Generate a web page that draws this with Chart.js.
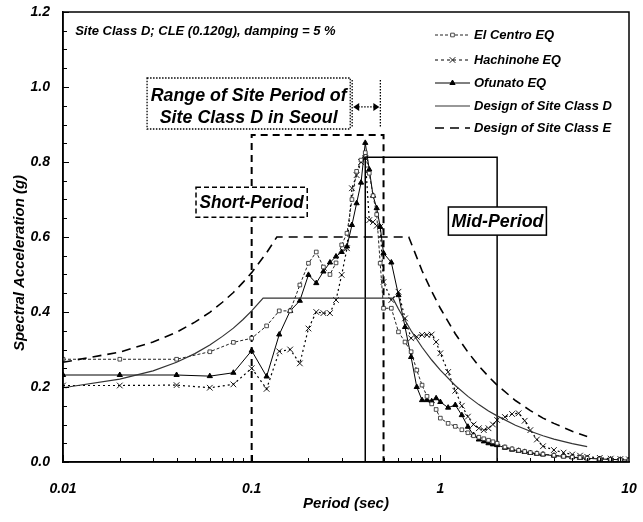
<!DOCTYPE html>
<html><head><meta charset="utf-8">
<script src="https://cdn.jsdelivr.net/npm/chart.js@4.4.0/dist/chart.umd.min.js"></script>
<style>html,body{margin:0;padding:0;background:#fff;}</style>
</head><body>
<canvas id="c" width="643" height="522"></canvas>
<script>
// ---- data ----
const periods = [0.01,0.02,0.04,0.06,0.08,0.1,0.12,0.14,0.16,0.18,0.2,0.22,0.24,0.26,0.28,0.3,0.32,0.34,0.36,0.38,0.4,0.42,0.44,0.46,0.48,0.5,0.55,0.6,0.65,0.7,0.75,0.8,0.85,0.9,0.95,1.0,1.1,1.2,1.3,1.4,1.5,1.6,1.7,1.8,1.9,2.0,2.2,2.4,2.6,2.8,3.0,3.25,3.5,4.0,4.5,5.0,5.5,6.0,7.0,8.0,9.0,10.0];
const elCentro = [0.274,0.274,0.274,0.294,0.319,0.33,0.363,0.403,0.403,0.472,0.53,0.56,0.52,0.50,0.531,0.579,0.61,0.70,0.775,0.805,0.825,0.77,0.71,0.66,0.53,0.41,0.41,0.347,0.32,0.294,0.245,0.205,0.175,0.155,0.14,0.117,0.103,0.095,0.086,0.078,0.07,0.066,0.062,0.058,0.054,0.05,0.04,0.035,0.031,0.028,0.025,0.023,0.021,0.018,0.015,0.013,0.012,0.01,0.008,0.007,0.006,0.005];
const hachinohe = [0.204,0.204,0.205,0.198,0.207,0.25,0.195,0.295,0.30,0.263,0.356,0.40,0.397,0.397,0.432,0.499,0.57,0.73,0.765,0.80,0.81,0.645,0.64,0.63,0.627,0.48,0.432,0.454,0.383,0.33,0.334,0.339,0.339,0.34,0.32,0.29,0.24,0.19,0.15,0.121,0.10,0.09,0.085,0.09,0.10,0.112,0.12,0.128,0.13,0.11,0.085,0.06,0.042,0.032,0.025,0.02,0.017,0.014,0.011,0.009,0.008,0.007];
const ofunato = [0.232,0.232,0.232,0.229,0.238,0.297,0.228,0.34,0.403,0.43,0.499,0.477,0.508,0.532,0.548,0.56,0.575,0.632,0.69,0.745,0.851,0.78,0.71,0.677,0.627,0.557,0.532,0.445,0.36,0.28,0.20,0.165,0.165,0.162,0.17,0.16,0.145,0.152,0.125,0.094,0.072,0.06,0.055,0.05,0.047,0.045,0.038,0.033,0.03,0.027,0.024,0.022,0.02,0.017,0.015,0.013,0.011,0.01,0.008,0.007,0.006,0.005];
const designDPeriods = [0.01,0.02,0.03,0.04,0.05,0.06,0.07,0.08,0.09,0.1,0.115,0.56,0.6,0.7,0.8,0.9,1.0,1.2,1.4,1.6,1.8,2.0,2.5,3.0,3.5,4.0,5.0,6.0];
const designD = [0.198,0.221,0.243,0.266,0.289,0.312,0.335,0.357,0.38,0.403,0.437,0.437,0.408,0.35,0.306,0.272,0.245,0.204,0.175,0.153,0.136,0.123,0.098,0.082,0.07,0.061,0.049,0.041];
const designEPeriods = [0.01,0.02,0.03,0.04,0.05,0.06,0.07,0.08,0.09,0.1,0.12,0.136,0.68,0.8,0.9,1.0,1.2,1.4,1.6,1.8,2.0,2.5,3.0,3.5,4.0,5.0,6.0];
const designE = [0.266,0.293,0.32,0.346,0.373,0.399,0.426,0.452,0.479,0.505,0.558,0.6,0.6,0.51,0.455,0.41,0.342,0.293,0.256,0.228,0.205,0.164,0.137,0.117,0.103,0.082,0.068];
const xTickValues = [0.01,0.1,1,10];
const xTickLabels = ['0.01','0.1','1','10'];
const yTickValues = [0,0.2,0.4,0.6,0.8,1.0,1.2];
const seriesNames = ['El Centro EQ','Hachinohe EQ','Ofunato EQ','Design of Site Class D','Design of Site Class E'];
const yTitle = 'Spectral Acceleration (g)';
const xTitle = 'Period (sec)';

const FAM = '"Liberation Sans", Arial, sans-serif';
const pts = (xs, ys) => xs.map((t, i) => ({x: t, y: ys[i]}));

const datasets = [
  {label: seriesNames[3], data: pts(designDPeriods, designD), borderColor:'#333', borderWidth:1.2, pointRadius:0, legendStyle:{dash:[], point:null}},
  {label: seriesNames[4], data: pts(designEPeriods, designE), borderColor:'#000', borderWidth:1.6, borderDash:[9,6], pointRadius:0, legendStyle:{dash:[9,6], point:null}},
  {label: seriesNames[0], data: pts(periods, elCentro), borderColor:'#222', borderWidth:1, borderDash:[3,2], pointStyle:'rect', pointRadius:2.6, pointBackgroundColor:'#fff', pointBorderColor:'#222', pointBorderWidth:0.8, legendStyle:{dash:[3,2], point:'rect'}},
  {label: seriesNames[1], data: pts(periods, hachinohe), borderColor:'#000', borderWidth:1.2, borderDash:[2,3], pointStyle:'crossRot', pointRadius:4, pointBorderColor:'#000', pointBorderWidth:0.9, legendStyle:{dash:[3,3], point:'crossRot'}},
  {label: seriesNames[2], data: pts(periods, ofunato), borderColor:'#000', borderWidth:1, pointStyle:'triangle', pointRadius:3, pointBackgroundColor:'#000', pointBorderColor:'#000', legendStyle:{dash:[], point:'triangle'}}
];

function boxText(ctx, lines, cx, ys, maxWs, size){
  ctx.fillStyle = '#000';
  ctx.font = 'italic bold ' + size + 'px ' + FAM;
  ctx.textAlign = 'center';
  ctx.textBaseline = 'middle';
  lines.forEach((s, i) => ctx.fillText(s, cx, ys[i], maxWs[i]));
}

const annot = {
  id: 'annot',
  beforeDatasetsDraw(chart){
    const {ctx, scales:{x, y}} = chart;
    const X = v => x.getPixelForValue(v), Y = v => y.getPixelForValue(v);
    ctx.save();
    ctx.strokeStyle = '#000';
    ctx.lineWidth = 2; ctx.setLineDash([7,5]);
    ctx.beginPath(); ctx.moveTo(X(0.1), Y(0)); ctx.lineTo(X(0.1), Y(0.872)); ctx.lineTo(X(0.5), Y(0.872)); ctx.lineTo(X(0.5), Y(0)); ctx.stroke();
    ctx.setLineDash([]); ctx.lineWidth = 1.5;
    ctx.beginPath(); ctx.moveTo(X(0.4), Y(0)); ctx.lineTo(X(0.4), Y(0.813)); ctx.lineTo(X(2.0), Y(0.813)); ctx.lineTo(X(2.0), Y(0)); ctx.stroke();
    ctx.restore();
  },
  afterDatasetsDraw(chart){
    const {ctx, chartArea:a, scales:{x, y}} = chart;
    const X = v => x.getPixelForValue(v), Y = v => y.getPixelForValue(v);
    ctx.save();
    ctx.fillStyle = '#000';
    ctx.font = 'italic bold 13px ' + FAM;
    ctx.textAlign = 'left'; ctx.textBaseline = 'middle';
    ctx.fillText('Site Class D; CLE (0.120g), damping = 5 %', X(0.0116), Y(1.147), 265);

    let l = X(0.0279), r = X(0.333), t = Y(1.024), b = Y(0.888);
    ctx.fillStyle = '#fff'; ctx.fillRect(l, t, r - l, b - t);
    ctx.strokeStyle = '#000'; ctx.lineWidth = 1.3; ctx.setLineDash([1.5,1.5]);
    ctx.strokeRect(l, t, r - l, b - t);
    boxText(ctx, ['Range of Site Period of', 'Site Class D in Seoul'], (l + r) / 2, [t + 18, t + 40], [196, 178], 18);

    const xa = X(0.341), xb = X(0.481), ya = Y(0.947);
    ctx.beginPath(); ctx.moveTo(xa, Y(1.019)); ctx.lineTo(xa, Y(0.893)); ctx.moveTo(xb, Y(1.019)); ctx.lineTo(xb, Y(0.893)); ctx.stroke();
    ctx.beginPath(); ctx.moveTo(xa + 6, ya); ctx.lineTo(xb - 6, ya); ctx.stroke();
    ctx.setLineDash([]); ctx.fillStyle = '#000';
    ctx.beginPath(); ctx.moveTo(xa + 1, ya); ctx.lineTo(xa + 7, ya - 4); ctx.lineTo(xa + 7, ya + 4); ctx.closePath(); ctx.fill();
    ctx.beginPath(); ctx.moveTo(xb - 1, ya); ctx.lineTo(xb - 7, ya - 4); ctx.lineTo(xb - 7, ya + 4); ctx.closePath(); ctx.fill();

    l = X(0.0507); r = X(0.197); t = Y(0.733); b = Y(0.653);
    ctx.fillStyle = '#fff'; ctx.fillRect(l, t, r - l, b - t);
    ctx.setLineDash([5,3]); ctx.lineWidth = 1.5; ctx.strokeRect(l, t, r - l, b - t);
    boxText(ctx, ['Short-Period'], (l + r) / 2, [(t + b) / 2 + 1], [104], 18);

    l = X(1.103); r = X(3.65); t = Y(0.68); b = Y(0.605);
    ctx.fillStyle = '#fff'; ctx.fillRect(l, t, r - l, b - t);
    ctx.setLineDash([]); ctx.lineWidth = 1.5; ctx.strokeRect(l, t, r - l, b - t);
    boxText(ctx, ['Mid-Period'], (l + r) / 2, [(t + b) / 2 + 1], [92], 18);

    const order = [2, 3, 4, 0, 1];
    const rowY = [35, 60, 83, 106, 128];
    const lx0 = a.left + 372, lx1 = a.left + 407, tx = a.left + 411;
    order.forEach((di, i) => {
      const ds = chart.data.datasets[di];
      const yy = rowY[i];
      ctx.strokeStyle = ds.borderColor; ctx.lineWidth = ds.borderWidth;
      ctx.setLineDash(ds.legendStyle.dash);
      ctx.beginPath(); ctx.moveTo(lx0, yy); ctx.lineTo(lx1, yy); ctx.stroke();
      ctx.setLineDash([]);
      if (ds.legendStyle.point) {
        ctx.fillStyle = ds.pointBackgroundColor || '#000';
        ctx.strokeStyle = ds.pointBorderColor || '#000';
        ctx.lineWidth = ds.pointBorderWidth || 1;
        Chart.helpers.drawPoint(ctx, {pointStyle: ds.legendStyle.point, radius: ds.pointRadius, rotation: 0, borderWidth: ds.pointBorderWidth || 1}, (lx0 + lx1) / 2, yy);
      }
      ctx.fillStyle = '#000';
      ctx.font = 'italic bold 13px ' + FAM;
      ctx.textAlign = 'left'; ctx.textBaseline = 'middle';
      const mw = [84, 87, 75, 140, 140][i];
      ctx.fillText(ds.label, tx, yy, mw);
    });

    ctx.strokeStyle = '#000'; ctx.lineWidth = 1; ctx.setLineDash([]);
    ctx.beginPath();
    for (let k = 0; k <= 24; k++) {
      const py = Math.round(Y(k * 0.05)) + 0.5;
      const len = (k % 4 === 0) ? 6 : 4;
      ctx.moveTo(a.left, py); ctx.lineTo(a.left + len, py);
    }
    for (let d = 0.01; d < 10; d *= 10) {
      for (let m = 1; m <= 9; m++) {
        const px = Math.round(X(d * m)) + 0.5;
        const len = m === 1 ? 7 : 4;
        ctx.moveTo(px, a.bottom); ctx.lineTo(px, a.bottom - len);
      }
    }
    ctx.stroke();
    ctx.lineWidth = 1.5;
    ctx.strokeRect(a.left, a.top, a.right - a.left, a.bottom - a.top);

    // y-axis title
    ctx.translate(20, 263);
    ctx.rotate(-Math.PI / 2);
    ctx.fillStyle = '#000';
    ctx.font = 'italic bold 15px ' + FAM;
    ctx.textAlign = 'center'; ctx.textBaseline = 'middle';
    ctx.fillText(yTitle, 0, 0, 176);
    ctx.restore();
  }
};

new Chart(document.getElementById('c'), {
  type: 'line',
  data: {datasets},
  options: {
    responsive: false,
    animation: false,
    devicePixelRatio: 1,
    layout: {padding: {left: 0, right: 14, top: 12, bottom: 0}},
    plugins: {legend: {display: false}, tooltip: {enabled: false}},
    scales: {
      x: {
        type: 'logarithmic', min: 0.01, max: 10,
        afterFit: s => { s.height = 60; s.paddingLeft = 0; s.paddingRight = 0; },
        afterBuildTicks: s => { s.ticks = xTickValues.map(v => ({value: v})); },
        grid: {display: false, drawTicks: false},
        border: {display: true, color: '#000', width: 1.5},
        ticks: {autoSkip: false, maxRotation: 0, padding: 19, color: '#000',
          font: {family: FAM, size: 14, style: 'italic', weight: 'bold'},
          callback: (v) => { const i = xTickValues.indexOf(v); return i >= 0 ? xTickLabels[i] : ''; }},
        title: {display: true, text: xTitle, color: '#000', padding: {top: 0, bottom: 9},
          font: {family: FAM, size: 15, style: 'italic', weight: 'bold'}}
      },
      y: {
        min: 0, max: 1.2,
        afterFit: s => { s.width = 63; s.paddingTop = 0; s.paddingBottom = 0; },
        afterBuildTicks: s => { s.ticks = yTickValues.map(v => ({value: v})); },
        grid: {display: false, drawTicks: false},
        border: {display: true, color: '#000', width: 1.5},
        ticks: {padding: 13, color: '#000',
          font: {family: FAM, size: 14, style: 'italic', weight: 'bold'},
          callback: v => Number(v).toFixed(1)},
        title: {display: false}
      }
    }
  },
  plugins: [annot]
});
</script>
</body></html>
